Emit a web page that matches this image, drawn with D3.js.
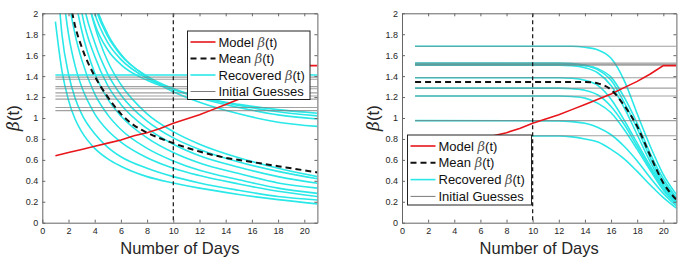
<!DOCTYPE html>
<html>
<head>
<meta charset="utf-8">
<script src="https://cdn.jsdelivr.net/npm/d3@7"></script>
<style>
  body { margin: 0; background: #fff; }
  svg { font-family: "Liberation Sans", Arial, Helvetica, sans-serif; }
  .axis path, .axis line { stroke: #666; }
  .axis text { fill: #262626; font-size: 9px; }
</style>
</head>
<body>
<svg width="694" height="266"></svg>
<script>
// ---- data ----
const days = d3.range(1, 22);
const modelBeta = [0.64, 0.67, 0.70, 0.73, 0.76, 0.79, 0.83, 0.86, 0.90, 0.95, 0.99,
    1.03, 1.08, 1.13, 1.18, 1.23, 1.29, 1.35, 1.42, 1.50, 1.50];

const xTicks = [0, 2, 4, 6, 8, 10, 12, 14, 16, 18, 20];
const yTicks = [0, 0.2, 0.4, 0.6, 0.8, 1, 1.2, 1.4, 1.6, 1.8, 2];
const cutDay = 10;

// left panel
const tLeft = [1, 1.5, 2, 2.5, 3, 4, 5, 6, 8, 10, 12, 15, 18, 21];
const leftRecovered = [
    [1.92, 1.45, 1.17, 0.99, 0.87, 0.71, 0.61, 0.54, 0.44, 0.38, 0.33, 0.27, 0.22, 0.18],
    [2.6, 1.8, 1.42, 1.19, 1.04, 0.85, 0.72, 0.63, 0.52, 0.44, 0.38, 0.31, 0.25, 0.217],
    [3.0, 2.3, 1.8, 1.5, 1.3, 1.04, 0.88, 0.77, 0.62, 0.52, 0.45, 0.37, 0.30, 0.25],
    [3.4, 2.8, 2.15, 1.8, 1.56, 1.23, 1.03, 0.89, 0.71, 0.59, 0.50, 0.41, 0.33, 0.28],
    [3.8, 3.2, 2.6, 2.15, 1.84, 1.43, 1.18, 1.02, 0.81, 0.67, 0.57, 0.47, 0.38, 0.33],
    [4.2, 3.6, 3.0, 2.45, 2.02, 1.59, 1.31, 1.13, 0.90, 0.75, 0.64, 0.53, 0.44, 0.376],
    [4.5, 3.9, 3.3, 2.7, 2.2, 1.72, 1.42, 1.22, 0.97, 0.81, 0.70, 0.58, 0.49, 0.42],
    [4.8, 4.2, 3.6, 3.0, 2.45, 1.88, 1.54, 1.32, 1.04, 0.87, 0.75, 0.62, 0.52, 0.44],
    [5, 4.2, 3.5, 2.8, 2.4, 1.9, 1.65, 1.51, 1.36, 1.27, 1.20, 1.13, 1.08, 1.045],
    [5, 4.3, 3.6, 3.0, 2.55, 2.0, 1.72, 1.56, 1.38, 1.28, 1.20, 1.12, 1.06, 1.02],
    [5, 4.4, 3.8, 3.2, 2.7, 2.08, 1.78, 1.60, 1.40, 1.28, 1.19, 1.10, 1.03, 0.99],
    [5, 4.5, 3.9, 3.3, 2.8, 2.12, 1.80, 1.61, 1.39, 1.25, 1.15, 1.04, 0.96, 0.92],
    [1.41, 1.41, 1.41, 1.41, 1.41, 1.41, 1.41, 1.41, 1.41, 1.41, 1.41, 1.41, 1.41, 1.41]
];
const leftGuesses = [1.39, 1.37, 1.30, 1.28, 1.24, 1.21, 1.18, 1.10, 1.07];
const tLeftMean = [2, 2.5, 3, 4, 5, 6, 7, 8, 10, 12, 14, 16, 18, 21];
const leftMean = [2.2, 1.88, 1.68, 1.40, 1.20, 1.04, 0.93, 0.86, 0.76, 0.68, 0.62, 0.58, 0.54, 0.48];

// right panel
const tRight = [1, 12, 13, 14, 15, 16, 17, 18, 19, 20, 21];
const rightRecovered = [
    [1.685, 1.685, 1.685, 1.675, 1.65, 1.57, 1.36, 1.04, 0.73, 0.46, 0.27],
    [1.525, 1.525, 1.52, 1.505, 1.46, 1.36, 1.15, 0.90, 0.62, 0.39, 0.23],
    [1.515, 1.515, 1.51, 1.50, 1.47, 1.39, 1.20, 0.95, 0.66, 0.42, 0.24],
    [1.505, 1.505, 1.50, 1.48, 1.43, 1.31, 1.10, 0.84, 0.58, 0.36, 0.21],
    [1.385, 1.385, 1.38, 1.36, 1.31, 1.18, 0.98, 0.76, 0.54, 0.35, 0.20],
    [1.285, 1.285, 1.28, 1.265, 1.22, 1.11, 0.94, 0.73, 0.52, 0.33, 0.19],
    [1.21, 1.21, 1.205, 1.19, 1.14, 1.05, 0.89, 0.70, 0.50, 0.31, 0.18],
    [0.975, 0.972, 0.965, 0.95, 0.91, 0.84, 0.73, 0.59, 0.43, 0.28, 0.16],
    [0.83, 0.828, 0.82, 0.80, 0.77, 0.70, 0.61, 0.49, 0.36, 0.24, 0.14]
];
const rightGuesses = [1.685, 1.525, 1.515, 1.505, 1.385, 1.285, 1.21, 0.975, 0.83];
const tRightMean = [1, 14, 15, 16, 17, 18, 19, 20, 21];
const rightMean = [1.345, 1.345, 1.33, 1.27, 1.12, 0.92, 0.64, 0.38, 0.22];

const legendLabels = ["Model ", "Mean ", "Recovered ", "Initial Guesses"];

// ---- drawing ----
const svg = d3.select("svg");
const red = "#e8161b", cyan = "#2ae8e8", gray = "#7a7a7a";
const yTop = 13.3, yBottom = 222.7;

function drawPanel(id, x0, x1, rec, tRec, guesses, tMean, mean, legendPos) {
    const g = svg.append("g").attr("id", id);
    const x = d3.scaleLinear().domain([0, 21]).range([x0, x1]);
    const y = d3.scaleLinear().domain([0, 2]).range([yBottom, yTop]);

    g.append("clipPath").attr("id", id + "-clip")
        .append("rect")
        .attr("x", x0).attr("y", yTop)
        .attr("width", x1 - x0).attr("height", yBottom - yTop);

    const plot = g.append("g").attr("clip-path", `url(#${id}-clip)`);
    const line = d3.line().x(d => x(d[0])).y(d => y(d[1])).curve(d3.curveMonotoneX);

    // recovered curves
    rec.forEach(vals => {
        plot.append("path")
            .attr("d", line(tRec.map((t, i) => [t, vals[i]])))
            .attr("fill", "none").attr("stroke", cyan).attr("stroke-width", 1.6);
    });

    // initial guesses
    guesses.forEach(v => {
        plot.append("line")
            .attr("x1", x(1)).attr("x2", x(21))
            .attr("y1", y(v)).attr("y2", y(v))
            .attr("stroke", gray).attr("stroke-width", 1.1).attr("opacity", 0.7);
    });

    // model
    plot.append("path")
        .attr("d", d3.line().x((d, i) => x(days[i])).y(d => y(d))(modelBeta))
        .attr("fill", "none").attr("stroke", red).attr("stroke-width", 1.6);

    // mean
    plot.append("path")
        .attr("d", line(tMean.map((t, i) => [t, mean[i]])))
        .attr("fill", "none").attr("stroke", "#111").attr("stroke-width", 2)
        .attr("stroke-dasharray", "6,4");

    // day 10 marker
    g.append("line")
        .attr("x1", x(cutDay)).attr("x2", x(cutDay))
        .attr("y1", yTop).attr("y2", yBottom)
        .attr("stroke", "#111").attr("stroke-width", 1.2)
        .attr("stroke-dasharray", "4,3");

    // axes (box with inward ticks)
    g.append("g").attr("class", "axis")
        .attr("transform", `translate(0,${yBottom})`)
        .call(d3.axisBottom(x).tickValues(xTicks).tickSize(-3).tickSizeOuter(0).tickPadding(5));
    g.append("g").attr("class", "axis")
        .attr("transform", `translate(0,${yTop})`)
        .call(d3.axisTop(x).tickValues(xTicks).tickSize(-3).tickSizeOuter(0).tickFormat(""));
    g.append("g").attr("class", "axis")
        .attr("transform", `translate(${x0},0)`)
        .call(d3.axisLeft(y).tickValues(yTicks).tickSize(-3).tickSizeOuter(0).tickPadding(4)
            .tickFormat(d3.format("~g")));
    g.append("g").attr("class", "axis")
        .attr("transform", `translate(${x1},0)`)
        .call(d3.axisRight(y).tickValues(yTicks).tickSize(-3).tickSizeOuter(0).tickFormat(""));
    g.selectAll(".axis .domain").attr("stroke", "#555");

    // axis titles
    g.append("text")
        .attr("x", (x0 + x1) / 2).attr("y", 254)
        .attr("text-anchor", "middle")
        .attr("font-size", 16.5).attr("fill", "#262626")
        .text("Number of Days");

    const yl = g.append("text")
        .attr("transform", `translate(${x0 - 23},118) rotate(-90)`)
        .attr("text-anchor", "middle")
        .attr("font-size", 17).attr("fill", "#262626");
    yl.append("tspan").attr("font-family", "DejaVu Serif, serif").attr("font-style", "italic").text("β");
    yl.append("tspan").text("(t)");

    // legend
    const lg = g.append("g").attr("transform", `translate(${legendPos.x},${legendPos.y})`);
    lg.append("rect")
        .attr("width", legendPos.w).attr("height", legendPos.h)
        .attr("fill", "#fff").attr("stroke", "#222").attr("stroke-width", 1);
    const styles = [
        { stroke: red, w: 1.6, dash: null },
        { stroke: "#111", w: 2, dash: "6,4" },
        { stroke: cyan, w: 1.6, dash: null },
        { stroke: gray, w: 1, dash: null }
    ];
    legendLabels.forEach((lab, i) => {
        const cy = legendPos.first + i * legendPos.step;
        lg.append("line")
            .attr("x1", 3).attr("x2", 28).attr("y1", cy).attr("y2", cy)
            .attr("stroke", styles[i].stroke).attr("stroke-width", styles[i].w)
            .attr("stroke-dasharray", styles[i].dash);
        const t = lg.append("text")
            .attr("x", 31).attr("y", cy + 4.5)
            .attr("font-size", 13).attr("fill", "#111");
        t.append("tspan").text(lab);
        if (i < 3) {
            t.append("tspan").attr("font-family", "DejaVu Serif, serif")
                .attr("font-style", "italic").attr("fill", "#555").text("β");
            t.append("tspan").text("(t)");
        }
    });
}

drawPanel("left", 42.3, 317.4, leftRecovered, tLeft, leftGuesses, tLeftMean, leftMean,
    { x: 187.5, y: 31, w: 122.5, h: 68.5, first: 11, step: 16.5 });
drawPanel("right", 402, 676.4, rightRecovered, tRight, rightGuesses, tRightMean, rightMean,
    { x: 407.5, y: 135, w: 124, h: 70, first: 11, step: 16.8 });
</script>
</body>
</html>
